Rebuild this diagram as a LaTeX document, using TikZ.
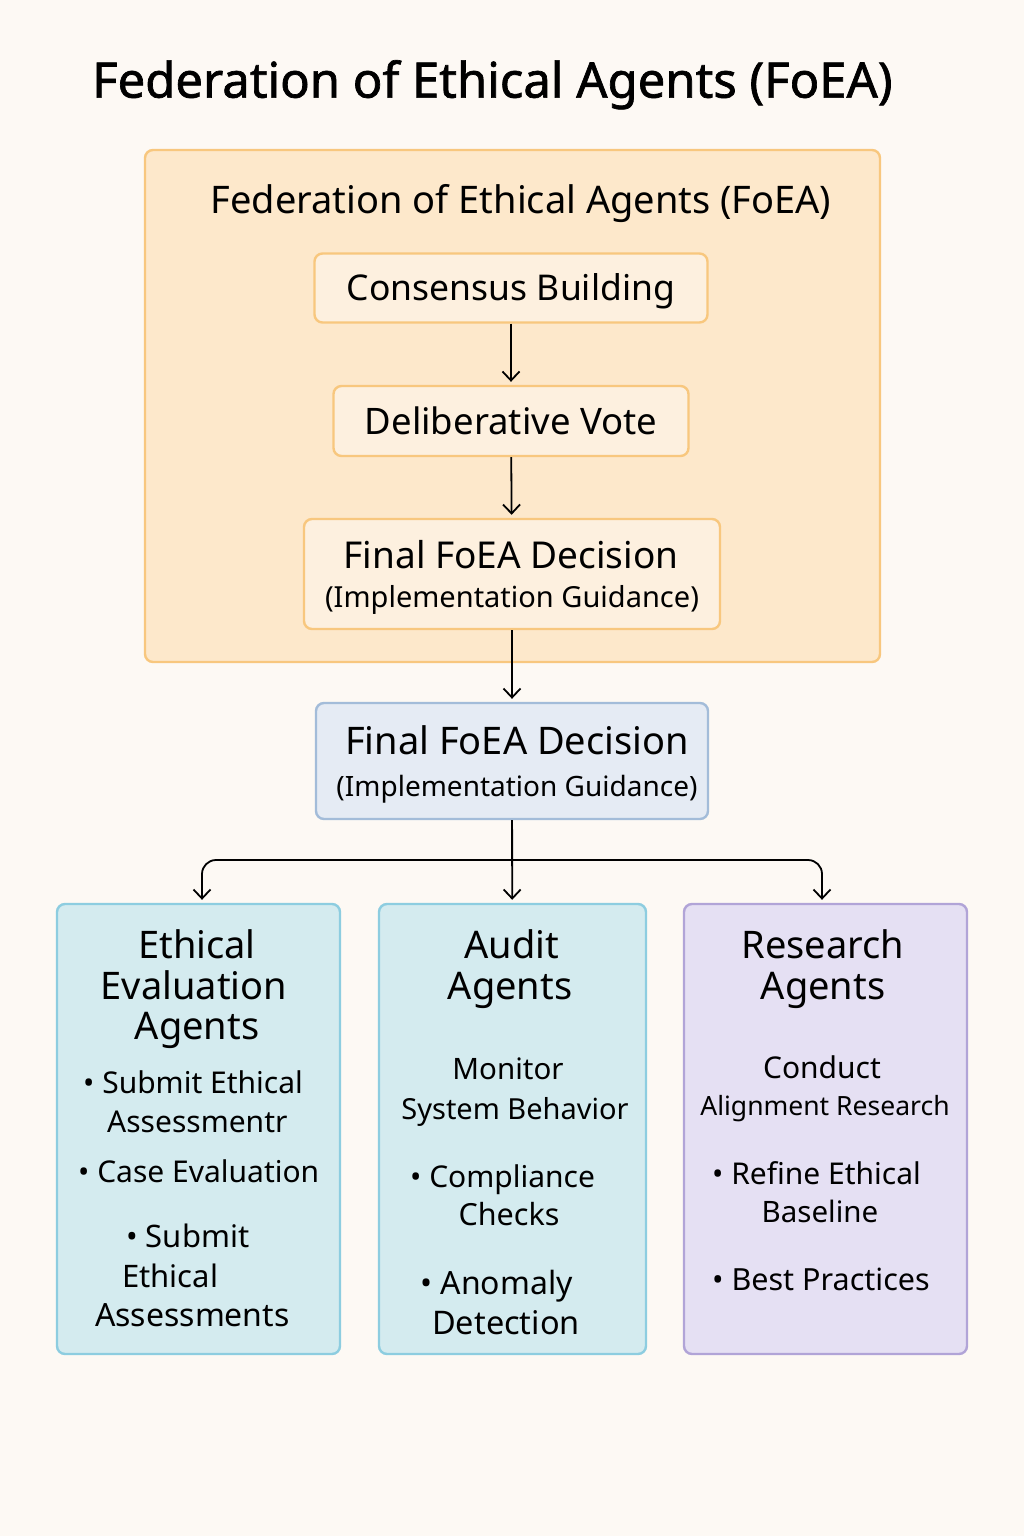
\documentclass[tikz,border=0pt]{standalone}
\usepackage{fontspec}
\setmainfont{Noto Sans}
\newfontfamily\titlefont[FakeBold=1.4]{Noto Sans}
\usetikzlibrary{arrows.meta,calc,positioning}
\definecolor{pagebg}{HTML}{FDF9F4}
\definecolor{foeafill}{HTML}{FDE8CB}
\definecolor{foeaedge}{HTML}{F8C77E}
\definecolor{stepfill}{HTML}{FDF0DF}
\definecolor{guidefill}{HTML}{E5EBF4}
\definecolor{guideedge}{HTML}{A3BCD9}
\definecolor{agentfill}{HTML}{D4EBEF}
\definecolor{agentedge}{HTML}{8DCDE0}
\definecolor{researchfill}{HTML}{E5E0F3}
\definecolor{researchedge}{HTML}{B1A4D7}
\tikzset{
  box/.style={draw,rounded corners=8pt,line width=2.4pt,inner sep=0pt},
  stepbox/.style={box,draw=foeaedge,fill=stepfill},
  agentbox/.style={box,draw=agentedge,fill=agentfill,minimum height=450pt},
  txt/.style={inner sep=0pt,anchor=base,yshift={-0.36*#1},font=\fontsize{#1}{#1}\selectfont},
  flow/.style={-{Straight Barb[length=9pt,width=17pt]},line width=1.8pt,shorten >=3pt}
}

\begin{document}
\begin{tikzpicture}[x=1pt,y=-1pt]
  \useasboundingbox (0,0) rectangle (1024,1536);
  \fill[pagebg] (0,0) rectangle (1024,1536);

  \node[txt=49,anchor=base west,font=\titlefont\fontsize{49}{49}\selectfont] (title) at (92,80) {Federation of Ethical Agents (FoEA)};

  % FoEA block
  \node[box,draw=foeaedge,fill=foeafill,minimum width=735pt,minimum height=512pt] (foea) at (512.5,406) {};
  \node[txt=38] (foealabel) at (521,200) {Federation of Ethical Agents (FoEA)};
  \node[stepbox,minimum width=393pt,minimum height=69pt] (consensus) at (511,288) {};
  \node[txt=35.5] at (consensus) {Consensus Building};
  \node[stepbox,minimum width=355pt,minimum height=70pt] (vote) at (511,421) {};
  \node[txt=36.5] at (vote) {Deliberative Vote};
  \node[stepbox,minimum width=416pt,minimum height=110pt] (final) at (512,574) {};
  \node[txt=37] (finala) at (511,555) {Final FoEA Decision};
  \node[txt=29] (finalb) at (512,597) {(Implementation Guidance)};

  % guidance
  \node[box,draw=guideedge,fill=guidefill,minimum width=392pt,minimum height=116pt] (guide) at (512,761) {};
  \node[txt=38] (guidea) at (517,741) {Final FoEA Decision};
  \node[txt=28] (guideb) at (517,786) {(Implementation Guidance)};

  % agent groups
  \node[agentbox,minimum width=283pt] (eval) at (198.5,1129) {};
  \node[agentbox,minimum width=267pt] (audit) at (512.5,1129) {};
  \node[agentbox,draw=researchedge,fill=researchfill,minimum width=283pt] (research) at (825.5,1129) {};

  \node[txt=38] (evala) at (197,945) {Ethical};
  \node[txt=38] (evalb) at (194,986) {Evaluation};
  \node[txt=38] (evalc) at (197,1026) {Agents};
  \node[txt=30,anchor=base west] (evald) at (83,1083) {• Submit Ethical};
  \node[txt=30,anchor=base west] (evale) at (107,1122) {Assessmentr};
  \node[txt=30,anchor=base west] (evalf) at (78,1172) {• Case Evaluation};
  \node[txt=31,anchor=base west] (evalg) at (126,1236) {• Submit};
  \node[txt=31,anchor=base west] (evalh) at (122,1276) {Ethical};
  \node[txt=32,anchor=base west] (evali) at (95,1315) {Assessments};

  \node[txt=38] (audita) at (512,945) {Audit};
  \node[txt=38] (auditb) at (510,986) {Agents};
  \node[txt=29.5] (auditc) at (508,1069) {Monitor};
  \node[txt=29] (auditd) at (515,1109) {System Behavior};
  \node[txt=30,anchor=base west] (audite) at (410,1177) {• Compliance};
  \node[txt=30.5] (auditf) at (509,1215) {Checks};
  \node[txt=32,anchor=base west] (auditg) at (420,1283) {• Anomaly};
  \node[txt=32.5] (audith) at (506,1323) {Detection};

  \node[txt=38] (researcha) at (823,945) {Research};
  \node[txt=38] (researchb) at (823,986) {Agents};
  \node[txt=30] (researchc) at (822,1068) {Conduct};
  \node[txt=26.5] (researchd) at (825,1106) {Alignment Research};
  \node[txt=30,anchor=base west] (researche) at (712,1174) {• Refine Ethical};
  \node[txt=29.5] (researchf) at (820,1212) {Baseline};
  \node[txt=30.5,anchor=base west] (researchg) at (712,1280) {• Best Practices};

  % connectors
  \coordinate (split) at (512,860);
  \draw[flow] (consensus) -- (vote);
  \draw[flow] (vote) -- (final);
  \draw[flow] (final) -- (guide);
  \draw[flow] (guide) -- (audit);
  \draw[flow,rounded corners=14pt] (split) -| ([xshift=3.5pt]eval.north);
  \draw[flow,rounded corners=14pt] (split) -| ([xshift=-3.5pt]research.north);
\end{tikzpicture}
\end{document}
